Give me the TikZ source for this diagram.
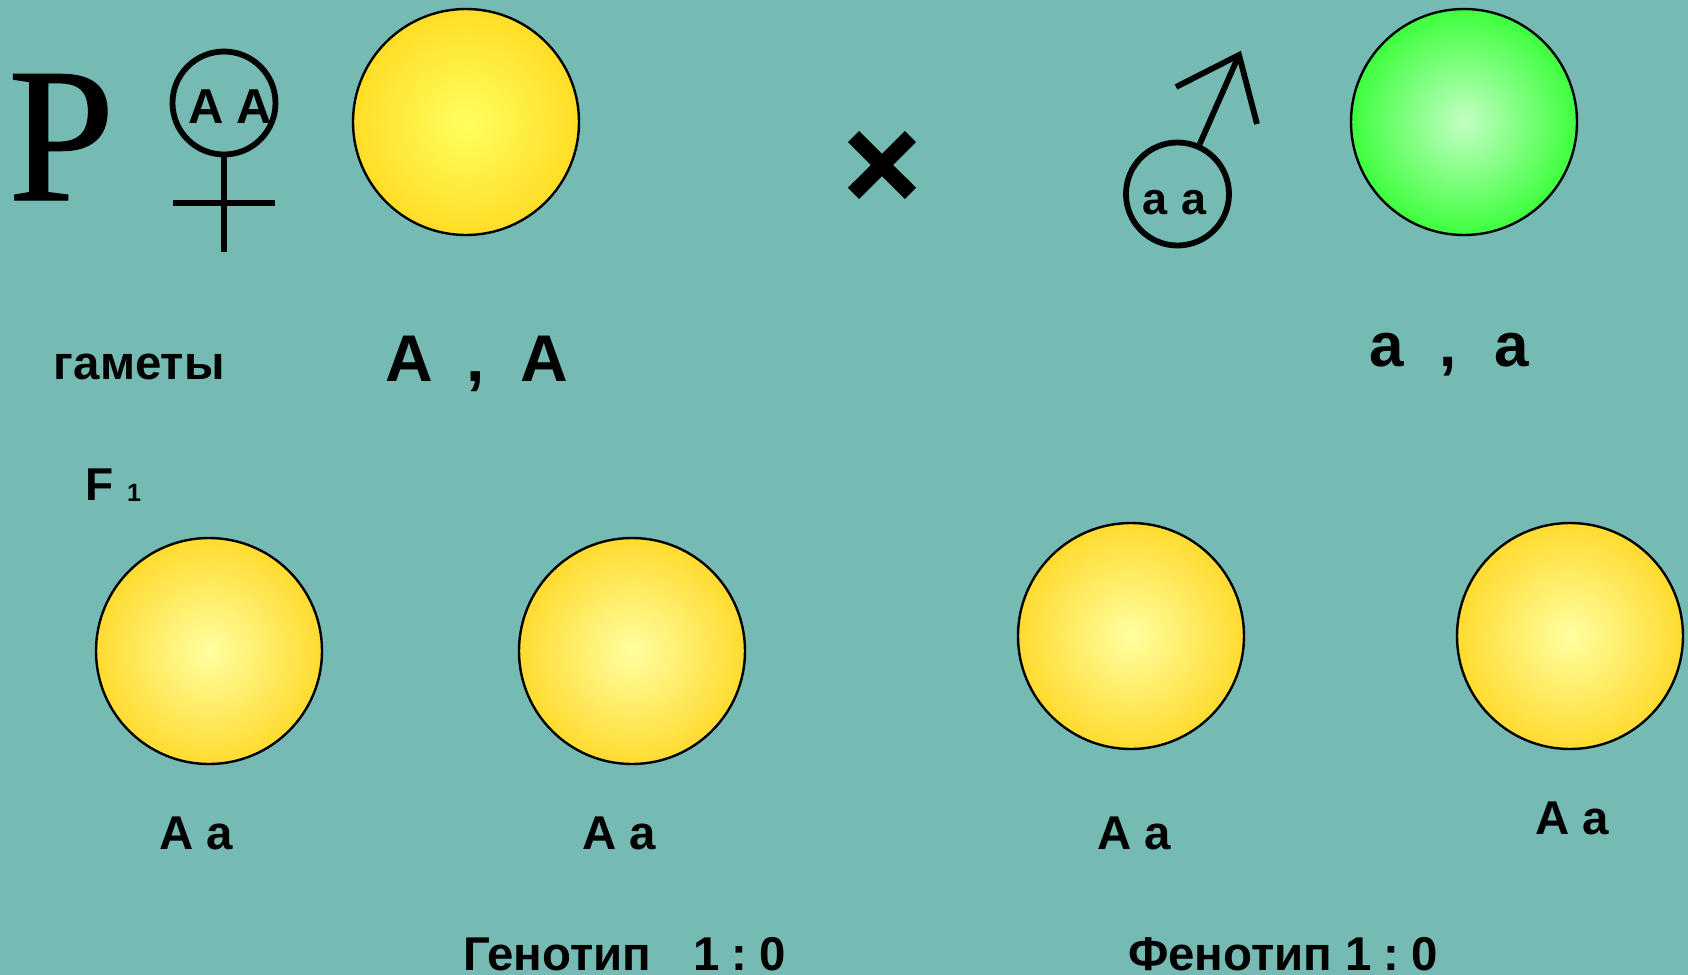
\documentclass[tikz,border=0pt]{standalone}
\usepackage{fontspec}
\setmainfont{Liberation Sans}[BoldFont={Liberation Sans Bold}]
\newfontfamily\pserif{Liberation Serif}[FakeBold=0.6]
\newfontfamily\crossfont{DejaVu Sans Bold}[FakeBold=3]
\newcommand{\fsz}[1]{\fontsize{#1}{#1}\selectfont\bfseries}
\newcommand{\fszr}[1]{\fontsize{#1}{#1}\selectfont}
\newcommand{\ratio}{1\hspace{6pt}:\hspace{6pt}0}
\definecolor{ya}{RGB}{255,255,95}
\definecolor{yc}{RGB}{255,221,38}
\definecolor{fa}{RGB}{255,255,160}
\definecolor{fc}{RGB}{255,219,48}
\definecolor{ga}{RGB}{195,255,195}
\definecolor{gc}{RGB}{62,255,62}
\pgfdeclareradialshading{balltop}{\pgfpointorigin}{color(0bp)=(ya);color(25bp)=(yc);color(50bp)=(yc)}
\pgfdeclareradialshading{ballf}{\pgfpointorigin}{color(0bp)=(fa);color(25bp)=(fc);color(50bp)=(fc)}
\pgfdeclareradialshading{ballgreen}{\pgfpointorigin}{color(0bp)=(ga);color(25bp)=(gc);color(50bp)=(gc)}
\definecolor{bgteal}{RGB}{117,187,179}
\tikzset{
  ball/.style={circle,draw=black,line width=1.2pt,minimum size=113pt,inner sep=0pt},
  sexring/.style={circle,draw=black,line width=2.9pt,minimum size=51.5pt,inner sep=0pt},
  sexline/.style={draw=black,line width=2.9pt},
  lab/.style={anchor=base west,inner sep=0pt,outer sep=0pt},
}
\begin{document}
\begin{tikzpicture}[x=0.5pt,y=-0.5pt]
\useasboundingbox (0,0) rectangle (1688,975);
\fill[bgteal] (0,0) rectangle (1688,975);
% parents
\node[lab,font=\pserif\fszr{96}] (pp) at (8,200) {P};
\node[sexring] (fem) at (224,103) {};
\coordinate (femend) at (224,252);
\coordinate (barl) at (173,203);
\coordinate (barr) at (275,203);
\draw[sexline] (fem.south) -- (femend);
\draw[sexline] (barl) -- (barr);
\node[lab,font=\fsz{24.5}] (aafem) at (188,123) {A\hspace{6.5pt}A};
\node[ball,shading=balltop] (py) at (466,122) {};
\node[font=\crossfont\fszr{54}] (cross) at (882,166) {×};
\node[sexring] (mal) at (1177.5,194) {};
\coordinate (tip) at (1239,55);
\coordinate (headl) at (1176,87);
\coordinate (headr) at (1257,124);
\draw[sexline] (mal.66) -- (tip);
\draw[sexline,line join=miter] (headl) -- (tip) -- (headr);
\node[lab,font=\fsz{22.5}] (aamal) at (1142,214) {a\hspace{7pt}a};
\node[ball,shading=ballgreen] (pg) at (1464,122) {};
% gametes
\node[lab,font=\fsz{23.7}] (gam) at (54,379) {гаметы};
\node[lab,font=\fsz{33}] (gf) at (385,381) {A\hspace{17pt},\hspace{18pt}A};
\node[lab,font=\fsz{31}] (gm) at (1369,366) {a\hspace{18pt},\hspace{19pt}a};
% F1
\node[lab,font=\fsz{23}] (fone) at (85,500) {F};
\node[lab,font=\fsz{12.5}] (foneb) at (127,501) {1};
\node[ball,shading=ballf] (c1) at (209,651) {};
\node[ball,shading=ballf] (c2) at (632,651) {};
\node[ball,shading=ballf] (c3) at (1131,636) {};
\node[ball,shading=ballf] (c4) at (1570,636) {};
\node[lab,font=\fsz{23.7}] (t1) at (159,849) {A a};
\node[lab,font=\fsz{23.7}] (t2) at (582,849) {A a};
\node[lab,font=\fsz{23.7}] (t3) at (1097,849) {A a};
\node[lab,font=\fsz{23.7}] (t4) at (1535,834) {A a};
\node[lab,font=\fsz{23.7}] (geno) at (463,970) {Генотип\hspace{21pt}\ratio};
\node[lab,font=\fsz{23.7}] (feno) at (1128,970) {Фенотип \ratio};
\end{tikzpicture}
\end{document}
